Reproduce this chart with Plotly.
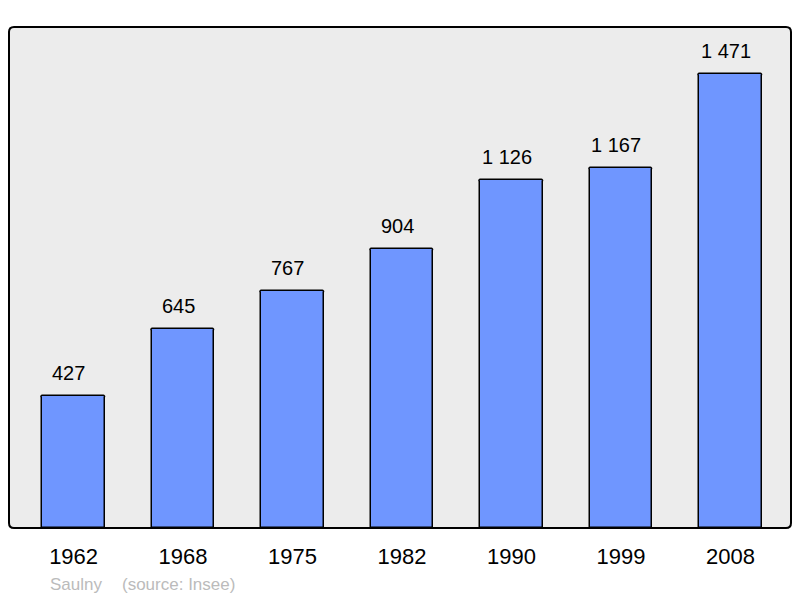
import plotly.graph_objects as go

years = ["1962", "1968", "1975", "1982", "1990", "1999", "2008"]
population = [427, 645, 767, 904, 1126, 1167, 1471]
value_labels = ["427", "645", "767", "904", "1 126", "1 167", "1 471"]
town = "Saulny"
source = "(source: Insee)"

FONT = "Liberation Sans, Arial, sans-serif"
xs = list(range(len(years)))

fig = go.Figure()
fig.add_trace(go.Bar(
    x=xs, y=population, width=0.57,
    marker=dict(color="#6f96ff", line=dict(color="#000000", width=1.5),
                cornerradius=2),
    hoverinfo="skip",
))

for x, v, lab in zip(xs, population, value_labels):
    fig.add_annotation(x=x, y=v, text=lab, showarrow=False, yanchor="bottom",
                       yshift=10, xshift=-5,
                       font=dict(size=20, color="#000000", family=FONT))

# rounded frame around the plot area
rx, ry = 5 / 782, 5 / 501
path = (f"M {rx},0 L {1-rx},0 Q 1,0 1,{ry} L 1,{1-ry} Q 1,1 {1-rx},1 "
        f"L {rx},1 Q 0,1 0,{1-ry} L 0,{ry} Q 0,0 {rx},0 Z")
fig.add_shape(type="path", xref="paper", yref="paper", path=path,
              line=dict(color="#000000", width=2), layer="above")

fig.add_annotation(xref="paper", yref="paper", x=(48 - 9) / 782, y=-(584 - 528) / 501,
                   xanchor="left", yanchor="middle", text=town, showarrow=False,
                   font=dict(size=17, color="#bbbbbb", family=FONT))
fig.add_annotation(xref="paper", yref="paper", x=(120 - 9) / 782, y=-(584 - 528) / 501,
                   xanchor="left", yanchor="middle", text=source, showarrow=False,
                   font=dict(size=17, color="#bbbbbb", family=FONT))

fig.update_layout(
    width=800, height=598,
    margin=dict(l=9, r=9, t=27, b=70),
    paper_bgcolor="#ffffff", plot_bgcolor="#ececec",
    showlegend=False,
    bargap=0,
    xaxis=dict(range=[-0.59, 6.552], tickvals=xs, ticktext=years, showgrid=False,
               zeroline=False, ticks="", ticklabelstandoff=13,
               tickfont=dict(size=22, color="#000000", family=FONT)),
    yaxis=dict(range=[0, 1623], showgrid=False, zeroline=False, showticklabels=False, ticks=""),
)

fig.write_html("out.html", config={"displayModeBar": False},
               post_script="document.body.style.margin='0';document.body.style.overflow='hidden';")
